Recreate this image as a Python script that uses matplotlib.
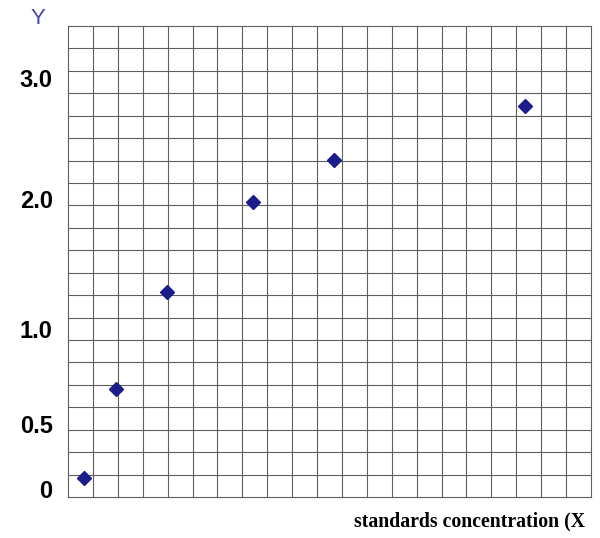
import matplotlib
matplotlib.use('Agg')
import matplotlib.pyplot as plt
import numpy as np

# data in grid-cell units (21 x 21 grid)
x_vals = [0.64, 1.93, 3.96, 7.44, 10.68, 18.33]
y_vals = [0.85, 4.82, 9.15, 13.15, 15.02, 17.45]

ytick_pos = [0.36, 3.25, 7.49, 13.29, 18.66]
ytick_labels = ['0', '0.5', '1.0', '2.0', '3.0']

n_cols, n_rows = 21, 21

fig = plt.figure(figsize=(6, 5.38), dpi=100)
ax = fig.add_axes([68/600, 41/538, 523/600, 471/538])

for i in range(n_cols + 1):
    ax.axvline(i, color='#5e5e5e', lw=0.8, zorder=1, clip_on=False)
for j in range(n_rows + 1):
    ax.axhline(j, color='#5e5e5e', lw=0.8, zorder=1, clip_on=False)

ax.plot(x_vals, y_vals, 'D', color='#1c1c8a', markersize=7, zorder=3)

ax.set_xlim(0, n_cols)
ax.set_ylim(0, n_rows)
for s in ax.spines.values():
    s.set_visible(False)

ax.set_xticks([])
ax.set_yticks(ytick_pos)
ax.set_yticklabels(ytick_labels, fontsize=17, fontweight='bold',
                   family='Liberation Sans')
ax.tick_params(axis='y', length=0, pad=11)

fig.text(38/600, 1 - 18/538, 'Y', color='#4848a8', fontsize=16,
         family='Liberation Sans', ha='center', va='center')
fig.text(585/600, 1 - 521/538, 'standards concentration (X', fontsize=14.2,
         fontweight='bold', family='Liberation Serif', ha='right', va='center')

fig.savefig('out.png', dpi=100)
